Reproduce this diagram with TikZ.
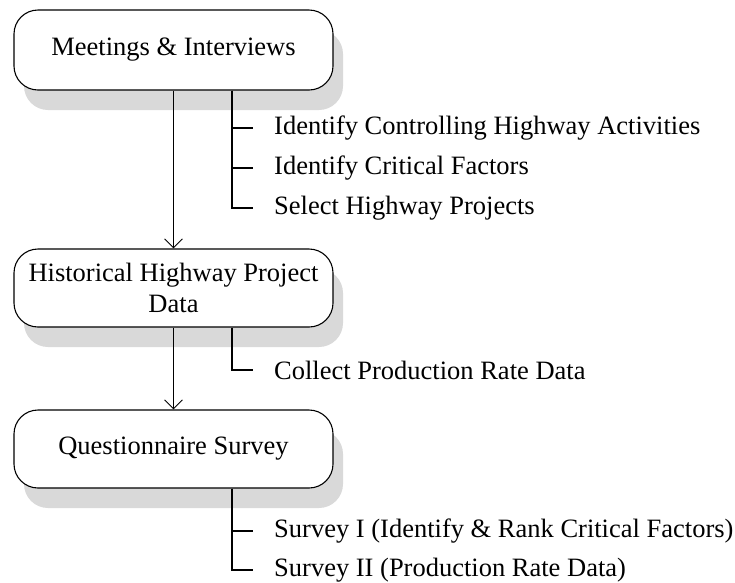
\documentclass[tikz,border=0pt]{standalone}
\usepackage{fontspec}
\setmainfont{Liberation Serif}
\usetikzlibrary{arrows.meta,shadows}

\tikzset{
	stagebox/.style={draw, fill=white, line width=1.1pt, rounded corners=24pt,
		minimum width=319pt, minimum height=80pt, align=center,
		font=\fontsize{26.5}{31}\selectfont,
		drop shadow={shadow xshift=10pt, shadow yshift=-20pt, fill=black!15, opacity=1}},
	task/.style={anchor=west, inner sep=0pt, font=\fontsize{26.5}{31}\selectfont},
	flow/.style={line width=0.9pt, -{Straight Barb[length=9pt,width=18pt,line width=0.9pt]}},
	branch/.style={line width=1.2pt}
}

\begin{document}
\begin{tikzpicture}[x=1pt, y=-1pt]
	\useasboundingbox (0,0) rectangle (735,582);

	% the three stages
	\node[stagebox] (meet) at (173.5, 50) {Meetings \& Interviews};
	\node[stagebox, minimum height=78pt] (hist) at (173.5, 288) {Historical Highway Project\\Data};
	\node[stagebox, minimum height=78pt] (quest) at (173.5, 449) {Questionnaire Survey};

	\draw[flow, line width=1.1pt] (meet) -- (hist);
	\draw[flow] (hist) -- (quest);

	% tasks of each stage
	\coordinate (trunk) at (232, 0);

	\node[task] (act1) at (274, 128) {Identify Controlling Highway Activities};
	\node[task] (act2) at (274, 168) {Identify Critical Factors};
	\node[task] (act3) at (274, 208) {Select Highway Projects};
	\draw[branch] (meet.south -| trunk) |- ([xshift=-21pt]act1.west);
	\draw[branch] (meet.south -| trunk) |- ([xshift=-21pt]act2.west);
	\draw[branch] (meet.south -| trunk) |- ([xshift=-21pt]act3.west);

	\node[task] (coll) at (274, 370) {Collect Production Rate Data};
	\draw[branch] (hist.south -| trunk) |- ([xshift=-21pt]coll.west);

	\node[task] (surv1) at (274, 531) {Survey I (Identify \& Rank Critical Factors)};
	\node[task] (surv2) at (274, 570) {Survey II (Production Rate Data)};
	\draw[branch] (quest.south -| trunk) |- ([xshift=-21pt]surv1.west);
	\draw[branch] (quest.south -| trunk) |- ([xshift=-21pt]surv2.west);
\end{tikzpicture}
\end{document}
